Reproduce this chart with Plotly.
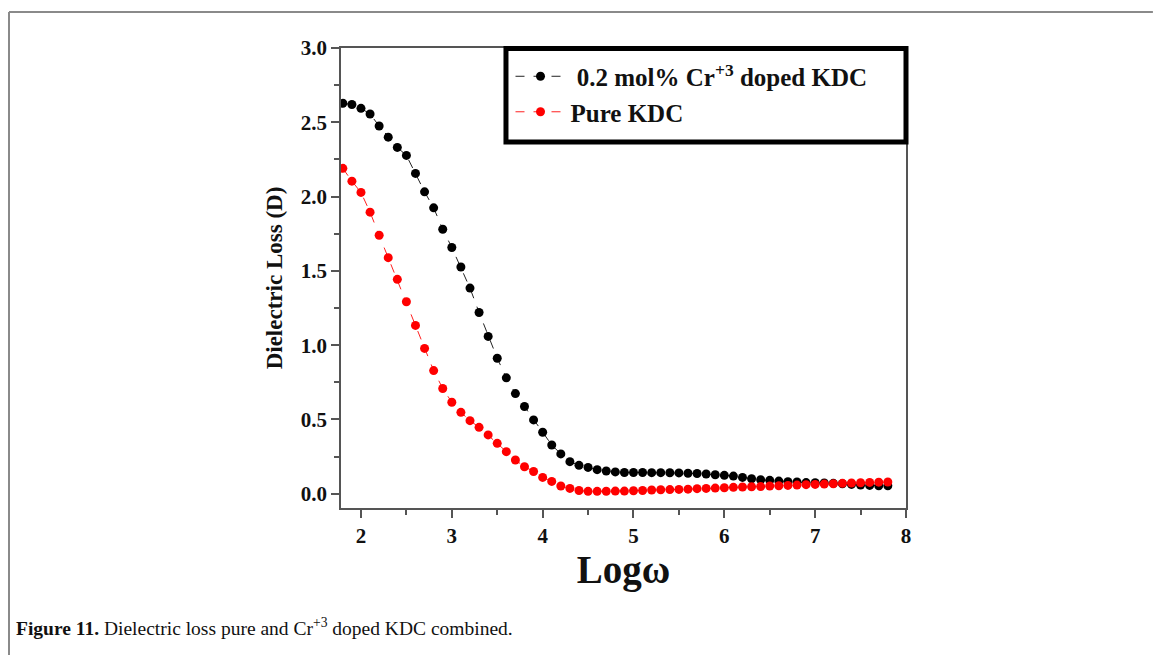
import plotly.graph_objects as go

log_w = [1.8, 1.9, 2.0, 2.1, 2.2, 2.3, 2.4, 2.5, 2.6, 2.7, 2.8, 2.9, 3.0, 3.1, 3.2, 3.3,
         3.4, 3.5, 3.6, 3.7, 3.8, 3.9, 4.0, 4.1, 4.2, 4.3, 4.4, 4.5, 4.6, 4.7, 4.8, 4.9,
         5.0, 5.1, 5.2, 5.3, 5.4, 5.5, 5.6, 5.7, 5.8, 5.9, 6.0, 6.1, 6.2, 6.3, 6.4, 6.5,
         6.6, 6.7, 6.8, 6.9, 7.0, 7.1, 7.2, 7.3, 7.4, 7.5, 7.6, 7.7, 7.8]

loss_doped = [2.628, 2.620, 2.594, 2.556, 2.475, 2.400, 2.331, 2.277, 2.156, 2.032, 1.924,
              1.780, 1.657, 1.526, 1.384, 1.220, 1.059, 0.912, 0.780, 0.674, 0.587, 0.497,
              0.414, 0.328, 0.268, 0.216, 0.191, 0.177, 0.162, 0.153, 0.147, 0.143, 0.143,
              0.143, 0.142, 0.142, 0.141, 0.140, 0.138, 0.136, 0.133, 0.128, 0.124, 0.119,
              0.110, 0.101, 0.094, 0.090, 0.085, 0.081, 0.079, 0.075, 0.074, 0.072, 0.070,
              0.067, 0.063, 0.058, 0.056, 0.054, 0.054]

loss_pure = [2.190, 2.104, 2.028, 1.895, 1.740, 1.589, 1.443, 1.292, 1.133, 0.978, 0.829,
             0.708, 0.616, 0.548, 0.492, 0.447, 0.396, 0.339, 0.283, 0.227, 0.182, 0.150,
             0.110, 0.083, 0.052, 0.036, 0.022, 0.016, 0.016, 0.017, 0.018, 0.018, 0.020,
             0.022, 0.025, 0.027, 0.028, 0.029, 0.031, 0.034, 0.036, 0.038, 0.040, 0.043,
             0.045, 0.047, 0.049, 0.052, 0.054, 0.056, 0.058, 0.061, 0.063, 0.065, 0.067,
             0.070, 0.072, 0.074, 0.076, 0.078, 0.079]

name_doped = " 0.2 mol% Cr<sup>+3</sup> doped KDC"
name_pure = "Pure KDC"
x_title = "Logω"
y_title = "Dielectric Loss (D)"
caption = "<b>Figure 11.</b> Dielectric loss pure and Cr<sup>+3</sup> doped KDC combined."

SERIF = "Liberation Serif, Times New Roman, serif"

fig = go.Figure()
fig.add_trace(go.Scatter(
    x=log_w, y=loss_doped, mode="lines+markers", name=name_doped, legendgroup="a",
    line=dict(color="#222222", width=1, dash="dash"),
    marker=dict(color="black", size=9, symbol="circle"),
))
fig.add_trace(go.Scatter(
    x=log_w, y=loss_pure, mode="lines+markers", name=name_pure, legendgroup="b",
    line=dict(color="#ff2020", width=1, dash="dash"),
    marker=dict(color="#ff0000", size=9, symbol="circle"),
))

axis_common = dict(
    showgrid=False, zeroline=False, showline=True, linecolor="#555555", linewidth=1.5,
    mirror=True, ticks="outside", ticklen=8, tickwidth=1.5, tickcolor="#555555",
    tickfont=dict(family=SERIF, size=21, color="#111111", weight="bold"),
)

fig.update_layout(
    width=1153, height=655,
    margin=dict(l=341, r=247, t=48, b=147),
    paper_bgcolor="white", plot_bgcolor="white",
    font=dict(family=SERIF, color="#111111"),
    showlegend=True,
    legend=dict(
        x=0.300, y=0.988, xanchor="left", yanchor="top",
        bgcolor="rgba(0,0,0,0)", borderwidth=0,
        font=dict(family=SERIF, size=25, color="#111111", weight="bold"),
        itemwidth=50, tracegroupgap=0,
    ),
    xaxis=dict(
        range=[1.78, 8.0], tick0=2, dtick=1,
        minor=dict(dtick=0.5, ticks="outside", ticklen=5, tickwidth=1.5, tickcolor="#555555"),
        title=dict(text=x_title, font=dict(family=SERIF, size=39, color="#111111", weight="bold"),
                   standoff=0),
        **axis_common,
    ),
    yaxis=dict(
        range=[-0.096, 3.0], tick0=0, dtick=0.5, tickformat=".1f",
        minor=dict(dtick=0.25, ticks="outside", ticklen=5, tickwidth=1.5, tickcolor="#555555"),
        title=dict(text=y_title, font=dict(family=SERIF, size=23, color="#111111", weight="bold"),
                   standoff=12),
        **axis_common,
    ),
)

# legend frame (thick black box)
fig.add_shape(type="rect", xref="paper", yref="paper",
              x0=0.292, x1=1.0, y0=0.7957, y1=0.999,
              line=dict(color="black", width=5), fillcolor="rgba(0,0,0,0)")

# outer page frame (top and left grey lines)
fig.add_shape(type="line", xref="paper", yref="paper",
              x0=-0.5876, x1=1.437, y0=1.0783, y1=1.0783,
              line=dict(color="#8a8a8a", width=2))
fig.add_shape(type="line", xref="paper", yref="paper",
              x0=-0.5876, x1=-0.5876, y0=1.0783, y1=-0.3196,
              line=dict(color="#8a8a8a", width=2))

fig.add_annotation(text=caption, xref="paper", yref="paper",
                   x=-0.5788, y=-0.2587, xanchor="left", yanchor="middle",
                   showarrow=False,
                   font=dict(family=SERIF, size=19.5, color="#111111"))

fig.write_html("out.html")
